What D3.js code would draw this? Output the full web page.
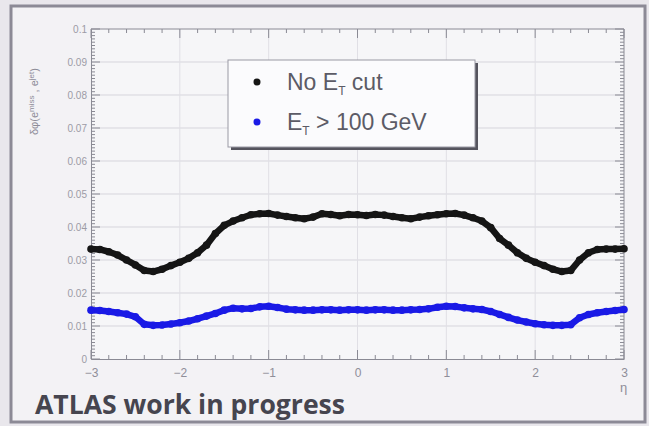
<!DOCTYPE html>
<html lang="en">
<head>
<meta charset="UTF-8">
<title>ATLAS eta distribution</title>
<script src="https://d3js.org/d3.v7.min.js"></script>
<style>
  body { margin: 0; background: #e9e7ec; }
  text { font-family: "Liberation Sans", Arial, sans-serif; }
</style>
</head>
<body>
<div id="chart"></div>
<script>
// eta bins (step 0.1)
var eta = d3.range(61).map(function(i) { return +(-3 + i * 0.1).toFixed(1); });

var noCut = [
  0.0333, 0.0332, 0.0325, 0.0315, 0.0300, 0.0285, 0.0268, 0.0265, 0.0272, 0.0283,
  0.0293, 0.0305, 0.0322, 0.0345, 0.0380, 0.0405, 0.0418, 0.0428, 0.0437, 0.0440,
  0.0441, 0.0436, 0.0432, 0.0428, 0.0425, 0.0430, 0.0440, 0.0438, 0.0434, 0.0438,
  0.0437, 0.0435, 0.0438, 0.0436, 0.0432, 0.0428, 0.0425, 0.0430, 0.0434, 0.0437,
  0.0440, 0.0441, 0.0436, 0.0428, 0.0418, 0.0398, 0.0365, 0.0345, 0.0322, 0.0305,
  0.0293, 0.0283, 0.0272, 0.0265, 0.0268, 0.0300, 0.0322, 0.0332, 0.0333, 0.0333,
  0.0334
];

var etCut = [
  0.0148, 0.0147, 0.0144, 0.0140, 0.0136, 0.0128, 0.0105, 0.0102, 0.0103, 0.0106,
  0.0110, 0.0115, 0.0122, 0.0130, 0.0138, 0.0148, 0.0154, 0.0152, 0.0153, 0.0158,
  0.0160, 0.0156, 0.0151, 0.0149, 0.0148, 0.0148, 0.0149, 0.0149, 0.0148, 0.0149,
  0.0149, 0.0148, 0.0149, 0.0149, 0.0148, 0.0148, 0.0149, 0.0150, 0.0152, 0.0157,
  0.0160, 0.0159, 0.0155, 0.0152, 0.0150, 0.0144, 0.0135, 0.0126, 0.0118, 0.0112,
  0.0107, 0.0104, 0.0102, 0.0102, 0.0104, 0.0125, 0.0135, 0.0140, 0.0144, 0.0147,
  0.0150
];

var yTicks = [0, 0.01, 0.02, 0.03, 0.04, 0.05, 0.06, 0.07, 0.08, 0.09, 0.1];
var yTickLabels = ["0", "0.01", "0.02", "0.03", "0.04", "0.05", "0.06", "0.07", "0.08", "0.09", "0.1"];
var xTicks = [-3, -2, -1, 0, 1, 2, 3];

var W = 649, H = 426;
var margin = {top: 29, right: 25, bottom: 67, left: 91};
var width = W - margin.left - margin.right,
    height = H - margin.top - margin.bottom;

var svg = d3.select("#chart").append("svg")
    .attr("width", W)
    .attr("height", H);

// slide frame
svg.append("rect")
    .attr("x", 11).attr("y", 6)
    .attr("width", 634).attr("height", 416)
    .attr("fill", "#f3f2f5")
    .attr("stroke", "#8c8a96")
    .attr("stroke-width", 3);

var g = svg.append("g")
    .attr("transform", "translate(" + margin.left + "," + margin.top + ")");

var x = d3.scaleLinear().domain([-3, 3]).range([0, width]);
var y = d3.scaleLinear().domain([0, 0.1]).range([height, 0]);

g.append("rect")
    .attr("width", width).attr("height", height)
    .attr("fill", "#f6f6f8");

// grid
g.append("g").selectAll("line")
    .data(yTicks.slice(1, -1))
    .enter().append("line")
      .attr("x1", 0).attr("x2", width)
      .attr("y1", function(d) { return y(d); })
      .attr("y2", function(d) { return y(d); })
      .attr("stroke", "#d6d5dc").attr("stroke-width", 1);
g.append("g").selectAll("line")
    .data(xTicks.slice(1, -1))
    .enter().append("line")
      .attr("y1", 0).attr("y2", height)
      .attr("x1", function(d) { return x(d); })
      .attr("x2", function(d) { return x(d); })
      .attr("stroke", "#e0dfe5").attr("stroke-width", 1);

var axisColor = "#8a8a94";

// left axis
var yAxis = g.append("g")
    .call(d3.axisLeft(y).tickValues(yTicks).tickSize(0)
      .tickFormat(function(d, i) { return yTickLabels[i]; }));
yAxis.select(".domain").attr("stroke", axisColor);
yAxis.selectAll("text").attr("fill", "#9c9ba5").style("font-size", "10px").attr("x", -4);

// bottom axis
var xAxis = g.append("g")
    .attr("transform", "translate(0," + height + ")")
    .call(d3.axisBottom(x).tickValues(xTicks).tickSize(0).tickFormat(d3.format("d")));
xAxis.select(".domain").attr("stroke", axisColor);
xAxis.selectAll("text").attr("fill", "#8f8e99").style("font-size", "12px").attr("y", 9);

// top and right frame lines
g.append("line").attr("x1", 0).attr("x2", width).attr("y1", 0).attr("y2", 0).attr("stroke", axisColor);
g.append("line").attr("x1", width).attr("x2", width).attr("y1", 0).attr("y2", height).attr("stroke", axisColor);

// ticks (major + minor) on all four sides
var yMinor = d3.range(0, 101).map(function(i) { return i / 1000; });
var xMinor = d3.range(0, 31).map(function(i) { return -3 + i * 0.2; });
function tickLen(v, maj) { return Math.abs(v / maj - Math.round(v / maj)) < 1e-6 ? 9 : 4; }

g.append("g").selectAll("line").data(yMinor).enter().append("line")
    .attr("x1", 0).attr("x2", function(d) { return tickLen(d, 0.01); })
    .attr("y1", function(d) { return y(d); }).attr("y2", function(d) { return y(d); })
    .attr("stroke", axisColor);
g.append("g").selectAll("line").data(yMinor).enter().append("line")
    .attr("x1", width).attr("x2", function(d) { return width - tickLen(d, 0.01); })
    .attr("y1", function(d) { return y(d); }).attr("y2", function(d) { return y(d); })
    .attr("stroke", axisColor);
g.append("g").selectAll("line").data(xMinor).enter().append("line")
    .attr("y1", height).attr("y2", function(d) { return height - tickLen(d, 1); })
    .attr("x1", function(d) { return x(d); }).attr("x2", function(d) { return x(d); })
    .attr("stroke", axisColor);
g.append("g").selectAll("line").data(xMinor).enter().append("line")
    .attr("y1", 0).attr("y2", function(d) { return tickLen(d, 1); })
    .attr("x1", function(d) { return x(d); }).attr("x2", function(d) { return x(d); })
    .attr("stroke", axisColor);

// series
function drawSeries(vals, color) {
  var pts = eta.map(function(e, i) { return [e, vals[i]]; });
  g.append("path")
      .datum(pts)
      .attr("fill", "none")
      .attr("stroke", color)
      .attr("stroke-width", 6.5)
      .attr("stroke-linejoin", "round")
      .attr("d", d3.line().x(function(d) { return x(d[0]); }).y(function(d) { return y(d[1]); }));
  g.append("g").selectAll("circle")
      .data(pts).enter().append("circle")
      .attr("cx", function(d) { return x(d[0]); })
      .attr("cy", function(d) { return y(d[1]); })
      .attr("r", 3.8)
      .attr("fill", color);
}
drawSeries(noCut, "#151515");
drawSeries(etCut, "#1a1ae6");

// axis titles
var yt = svg.append("text")
    .attr("transform", "translate(38,135) rotate(-90)")
    .attr("fill", "#8d8c98")
    .style("font-size", "11px");
yt.append("tspan").text("δφ(e");
yt.append("tspan").attr("dy", -4).style("font-size", "8px").text("miss");
yt.append("tspan").attr("dy", 4).text(" , e");
yt.append("tspan").attr("dy", -4).style("font-size", "8px").text("jet");
yt.append("tspan").attr("dy", 4).text(")");

svg.append("text")
    .attr("x", 620).attr("y", 392)
    .attr("fill", "#8f8e99")
    .style("font-size", "13px")
    .text("η");

// legend
var lg = svg.append("g").attr("transform", "translate(228,60)");
lg.append("rect").attr("x", 3).attr("y", 3).attr("width", 247).attr("height", 87).attr("fill", "#55545e");
lg.append("rect").attr("width", 247).attr("height", 87)
    .attr("fill", "#fbfbfd").attr("stroke", "#9a99a4").attr("stroke-width", 1);
var legendItems = [
  {color: "#151515", main: "No E", sub: "T", rest: " cut"},
  {color: "#1a1ae6", main: "E", sub: "T", rest: " > 100 GeV"}
];
legendItems.forEach(function(it, i) {
  var cy = 22 + i * 40;
  lg.append("circle").attr("cx", 29).attr("cy", cy).attr("r", 3.5).attr("fill", it.color);
  var t = lg.append("text").attr("x", 59).attr("y", cy + 8)
      .attr("fill", "#5c5b66").style("font-size", "23px");
  t.append("tspan").text(it.main);
  t.append("tspan").attr("dy", 5).style("font-size", "12px").text(it.sub);
  t.append("tspan").attr("dy", -5).text(it.rest);
});

// caption
svg.append("text")
    .attr("x", 35).attr("y", 414)
    .attr("fill", "#46454f")
    .style("font-family", "'Open Sans', sans-serif")
    .style("font-weight", "bold")
    .style("font-size", "26px")
    .attr("textLength", 310)
    .attr("lengthAdjust", "spacingAndGlyphs")
    .text("ATLAS work in progress");
</script>
</body>
</html>
